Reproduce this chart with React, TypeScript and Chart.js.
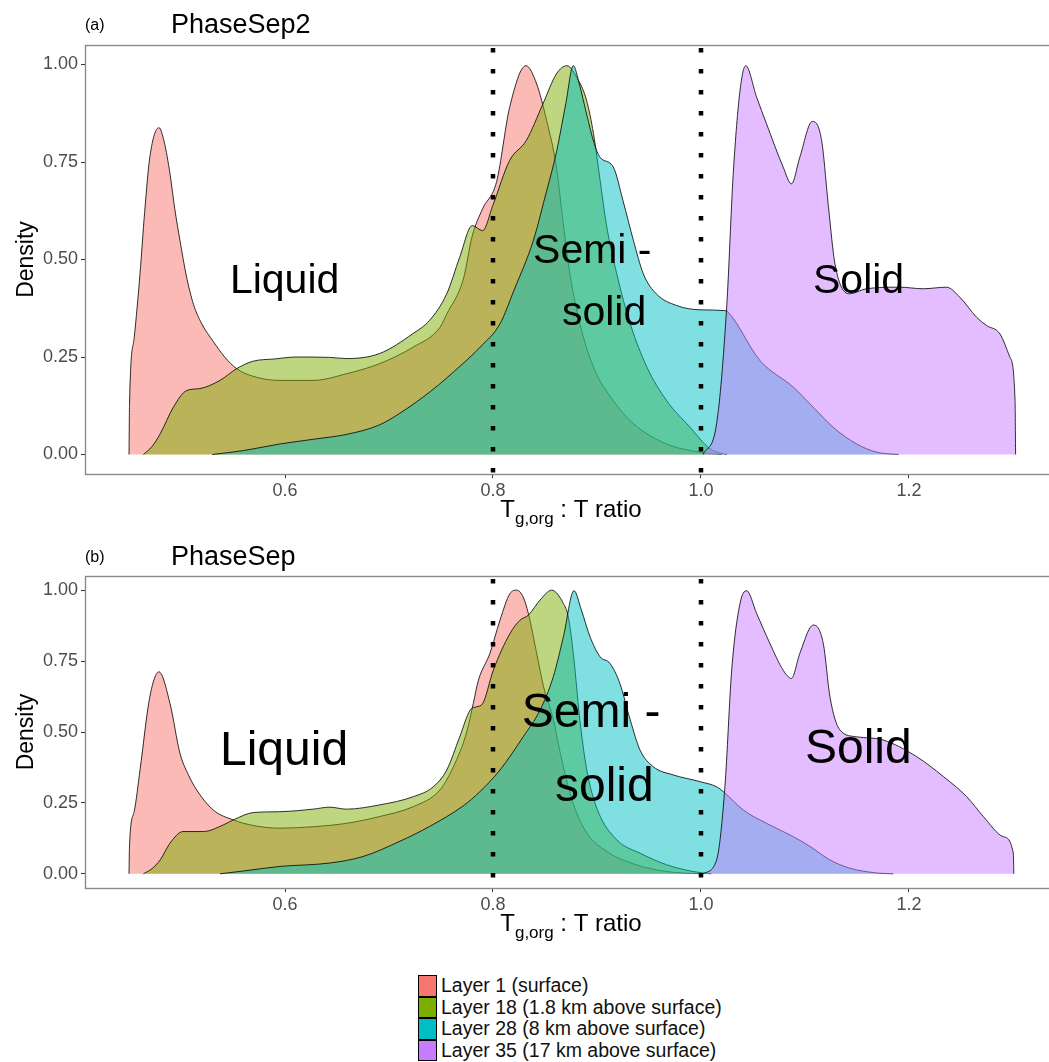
import React, { useEffect, useRef } from "react";
import { Chart, registerables } from "chart.js";

Chart.register(...registerables);

type Pt = [number, number];

// ---------- data ----------
const layerNames = [
  "Layer 1 (surface)",
  "Layer 18 (1.8 km above surface)",
  "Layer 28 (8 km above surface)",
  "Layer 35 (17 km above surface)",
];
const layerColors = ["#F8766D", "#7CAE00", "#00BFC4", "#C77CFF"];
const xTicks = [0.6, 0.8, 1.0, 1.2];
const yTicks = [0, 0.25, 0.5, 0.75, 1.0];
const phaseBoundaries = [0.8, 1.0];

// Panel (a) PhaseSep2
const aLayer1: Pt[] = [
  [0.45, 0], [0.4505, 0.13], [0.455, 0.3], [0.4606, 0.464], [0.465, 0.62], [0.47, 0.762],
  [0.4788, 0.838], [0.484, 0.8], [0.4894, 0.72], [0.494, 0.63], [0.499, 0.549], [0.505, 0.46],
  [0.512, 0.385], [0.52, 0.335], [0.531, 0.29], [0.542, 0.25], [0.5535, 0.22], [0.57, 0.2],
  [0.595, 0.19], [0.627, 0.19], [0.659, 0.207], [0.691, 0.233], [0.723, 0.275], [0.749, 0.326],
  [0.7555, 0.36], [0.7715, 0.45], [0.78, 0.56], [0.79, 0.63], [0.8035, 0.7], [0.816, 0.89],
  [0.8317, 0.997], [0.842, 0.95], [0.8516, 0.856], [0.861, 0.737], [0.8676, 0.591], [0.874, 0.463],
  [0.8836, 0.335], [0.8966, 0.224], [0.9156, 0.138], [0.935, 0.079], [0.967, 0.027], [0.999, 0.006],
  [1.02, 0],
];
const aLayer18: Pt[] = [
  [0.4638, 0], [0.472, 0.02], [0.48, 0.053], [0.4926, 0.121], [0.5055, 0.164], [0.518, 0.169],
  [0.5375, 0.19], [0.5535, 0.22], [0.569, 0.239], [0.59, 0.245], [0.611, 0.25], [0.643, 0.249],
  [0.659, 0.246], [0.691, 0.259], [0.723, 0.31], [0.739, 0.344], [0.7555, 0.412], [0.768, 0.506],
  [0.78, 0.587], [0.79, 0.574], [0.8, 0.64], [0.816, 0.754], [0.832, 0.805], [0.848, 0.899],
  [0.861, 0.976], [0.871, 0.997], [0.882, 0.96], [0.89, 0.908], [0.8966, 0.823], [0.903, 0.703],
  [0.909, 0.59], [0.919, 0.463], [0.932, 0.335], [0.948, 0.224], [0.967, 0.138], [0.9894, 0.07],
  [1.0087, 0.0145], [1.025, 0],
];
const aLayer28: Pt[] = [
  [0.53, 0], [0.56, 0.01], [0.595, 0.027], [0.63, 0.04], [0.66, 0.052], [0.69, 0.075], [0.71, 0.105],
  [0.74, 0.162], [0.771, 0.233], [0.7875, 0.275], [0.8067, 0.335], [0.82, 0.42], [0.8388, 0.549],
  [0.85, 0.66], [0.8613, 0.779], [0.87, 0.9], [0.8772, 0.997], [0.883, 0.95], [0.89, 0.873],
  [0.897, 0.8], [0.903, 0.762], [0.9157, 0.737], [0.925, 0.651], [0.935, 0.549], [0.9446, 0.463],
  [0.957, 0.412], [0.9766, 0.382], [0.999, 0.371], [1.023, 0.369], [1.026, 0.365], [1.0567, 0.241],
  [1.0888, 0.1726], [1.108, 0.121], [1.127, 0.07], [1.1497, 0.027], [1.169, 0.006], [1.19, 0],
];
const aLayer35: Pt[] = [
  [1.002, 0], [1.015, 0.079], [1.0247, 0.378], [1.031, 0.72], [1.0375, 0.933], [1.043, 0.997],
  [1.0535, 0.916], [1.063, 0.848], [1.079, 0.737], [1.087, 0.694], [1.095, 0.762], [1.107, 0.854],
  [1.116, 0.805], [1.1226, 0.634], [1.1288, 0.489], [1.143, 0.412], [1.159, 0.425], [1.191, 0.429],
  [1.2137, 0.425], [1.236, 0.429], [1.249, 0.403], [1.265, 0.352], [1.2745, 0.331], [1.2875, 0.309],
  [1.297, 0.25], [1.302, 0.138], [1.3025, 0],
];

// Panel (b) PhaseSep
const bLayer1: Pt[] = [
  [0.45, 0], [0.4505, 0.102], [0.455, 0.22], [0.4606, 0.366], [0.47, 0.624], [0.4788, 0.712],
  [0.4894, 0.601], [0.499, 0.425], [0.507, 0.35], [0.515, 0.296], [0.531, 0.225], [0.5503, 0.19],
  [0.57, 0.17], [0.595, 0.161], [0.627, 0.166], [0.659, 0.178], [0.691, 0.202], [0.7234, 0.237],
  [0.749, 0.296], [0.762, 0.378], [0.7747, 0.5], [0.781, 0.6], [0.786, 0.683], [0.797, 0.777],
  [0.8067, 0.894], [0.8163, 0.988], [0.8228, 1.0], [0.829, 0.976], [0.834, 0.918], [0.842, 0.777],
  [0.8486, 0.66], [0.8582, 0.542], [0.8644, 0.43], [0.877, 0.249], [0.89, 0.145], [0.909, 0.08],
  [0.935, 0.035], [0.967, 0.008], [1.0, 0],
];
const bLayer18: Pt[] = [
  [0.4638, 0], [0.472, 0.018], [0.48, 0.049], [0.4894, 0.108], [0.502, 0.149], [0.5215, 0.149],
  [0.5407, 0.1725], [0.5503, 0.19], [0.5696, 0.216], [0.595, 0.219], [0.627, 0.228], [0.643, 0.235],
  [0.659, 0.228], [0.691, 0.243], [0.7234, 0.272], [0.7426, 0.307], [0.7555, 0.366], [0.768, 0.483],
  [0.778, 0.577], [0.7843, 0.589], [0.79, 0.6], [0.8003, 0.718], [0.8163, 0.847], [0.8259, 0.894],
  [0.834, 0.912], [0.8452, 0.965], [0.8564, 1.0], [0.8677, 0.953], [0.8724, 0.906], [0.878, 0.75],
  [0.883, 0.56], [0.89, 0.37], [0.9, 0.23], [0.919, 0.12], [0.9413, 0.073], [0.967, 0.032],
  [0.9926, 0.008], [1.01, 0],
];
const bLayer28: Pt[] = [
  [0.5375, 0], [0.56, 0.01], [0.595, 0.026], [0.643, 0.038], [0.675, 0.061], [0.7106, 0.115],
  [0.739, 0.167], [0.7715, 0.24], [0.7875, 0.29], [0.8067, 0.366], [0.829, 0.483], [0.8452, 0.577],
  [0.858, 0.695], [0.8677, 0.836], [0.8779, 0.998], [0.885, 0.93], [0.8933, 0.836], [0.903, 0.765],
  [0.9125, 0.742], [0.922, 0.671], [0.932, 0.542], [0.9413, 0.437], [0.954, 0.378], [0.973, 0.349],
  [0.999, 0.325], [1.015, 0.307], [1.0214, 0.29], [1.0407, 0.225], [1.063, 0.178], [1.0888, 0.131],
  [1.105, 0.096], [1.124, 0.049], [1.143, 0.02], [1.169, 0.003], [1.185, 0],
];
const bLayer35: Pt[] = [
  [1.002, 0], [1.015, 0.049], [1.023, 0.307], [1.0295, 0.718], [1.0375, 0.953], [1.0439, 0.998],
  [1.0535, 0.918], [1.0663, 0.812], [1.079, 0.718], [1.087, 0.689], [1.095, 0.777], [1.108, 0.877],
  [1.1176, 0.812], [1.124, 0.624], [1.1336, 0.507], [1.1497, 0.483], [1.175, 0.472], [1.2074, 0.413],
  [1.233, 0.343], [1.2555, 0.272], [1.2715, 0.202], [1.2907, 0.131], [1.3003, 0.073], [1.3008, 0],
];

const phaseLabels = ["Liquid", "Semi -", "solid", "Solid"];

// ---------- layout ----------
const FONT = '"Liberation Sans", Arial, Helvetica, sans-serif';
const X_MIN = 0.40769;
const X_MAX = 1.33462;
const Y_MIN = -0.05;
const Y_MAX = 1.05;
const PANEL_CENTER_X = 0.875;

interface PanelSpec {
  tag: string;
  title: string;
  series: Pt[][];
  top: number;
  height: number;
  padTop: number;
  axisH: number;
  tagBaseline: number;
  titleBaseline: number;
  labelSize: number;
  labelPos: Pt[];
}

const panels: PanelSpec[] = [
  {
    tag: "(a)",
    title: "PhaseSep2",
    series: [aLayer1, aLayer18, aLayer28, aLayer35],
    top: 0,
    height: 535,
    padTop: 45,
    axisH: 61,
    tagBaseline: 30,
    titleBaseline: 33,
    labelSize: 41,
    labelPos: [[0.547, 0.413], [0.8385, 0.49], [0.8663, 0.331], [1.1077, 0.413]],
  },
  {
    tag: "(b)",
    title: "PhaseSep",
    series: [bLayer1, bLayer18, bLayer28, bLayer35],
    top: 540,
    height: 410,
    padTop: 36,
    axisH: 62,
    tagBaseline: 21.5,
    titleBaseline: 25,
    labelSize: 48,
    labelPos: [[0.5375, 0.384], [0.8276, 0.518], [0.8596, 0.255], [1.1, 0.391]],
  },
];

function hexA(hex: string, a: number) {
  const n = parseInt(hex.slice(1), 16);
  return `rgba(${(n >> 16) & 255},${(n >> 8) & 255},${n & 255},${a})`;
}

function makeOverlay(spec: PanelSpec) {
  return {
    id: "overlay" + spec.tag,
    afterDraw(chart: any) {
      const ctx = chart.ctx as CanvasRenderingContext2D;
      const area = chart.chartArea;
      const xs = chart.scales.x;
      const ys = chart.scales.y;
      ctx.save();
      // phase boundaries
      ctx.strokeStyle = "#000";
      ctx.lineWidth = 4.5;
      ctx.setLineDash([4.5, 16.5]);
      ctx.lineDashOffset = -3;
      phaseBoundaries.forEach((v) => {
        const px = Math.round(xs.getPixelForValue(v));
        ctx.beginPath();
        ctx.moveTo(px, area.top);
        ctx.lineTo(px, area.bottom + 2);
        ctx.stroke();
      });
      ctx.setLineDash([]);
      // phase labels
      ctx.fillStyle = "#000";
      ctx.font = `${spec.labelSize}px ${FONT}`;
      ctx.textAlign = "left";
      ctx.textBaseline = "alphabetic";
      phaseLabels.forEach((t, i) => {
        const [lx, ly] = spec.labelPos[i];
        ctx.fillText(t, xs.getPixelForValue(lx), ys.getPixelForValue(ly));
      });
      // frame
      ctx.strokeStyle = "#8a8a8a";
      ctx.lineWidth = 1.4;
      ctx.strokeRect(area.left + 0.5, area.top + 0.5, chart.width + 20, area.bottom - area.top);
      // titles
      ctx.fillStyle = "#000";
      ctx.font = `16px ${FONT}`;
      ctx.fillText(spec.tag, 85, spec.tagBaseline);
      ctx.font = `27px ${FONT}`;
      ctx.fillText(spec.title, 171, spec.titleBaseline);
      // y title
      ctx.save();
      ctx.translate(33, ys.getPixelForValue(0.5));
      ctx.rotate(-Math.PI / 2);
      ctx.textAlign = "center";
      ctx.font = `23px ${FONT}`;
      ctx.fillText("Density", 0, 0);
      ctx.restore();
      // x title with subscript
      const base = area.bottom + 43;
      ctx.font = `24px ${FONT}`;
      const wT = ctx.measureText("T").width;
      const wRest = ctx.measureText(" : T ratio").width;
      ctx.font = `17px ${FONT}`;
      const wSub = ctx.measureText("g,org").width;
      const total = wT + wSub + wRest;
      let sx = xs.getPixelForValue(PANEL_CENTER_X) - total / 2;
      ctx.textAlign = "left";
      ctx.font = `24px ${FONT}`;
      ctx.fillText("T", sx, base);
      sx += wT;
      ctx.font = `17px ${FONT}`;
      ctx.fillText("g,org", sx, base + 6.5);
      sx += wSub;
      ctx.font = `24px ${FONT}`;
      ctx.fillText(" : T ratio", sx, base);
      ctx.restore();
    },
  };
}

function Panel({ spec }: { spec: PanelSpec }) {
  const ref = useRef<HTMLCanvasElement>(null);
  useEffect(() => {
    const chart = new Chart(ref.current!, {
      type: "line",
      data: {
        datasets: spec.series.map((s, i) => ({
          label: layerNames[i],
          data: s.map(([x, y]) => ({ x, y })),
          borderColor: "rgba(0,0,0,0.8)",
          borderWidth: 1,
          backgroundColor: hexA(layerColors[i], 0.5),
          fill: "origin",
          pointRadius: 0,
          cubicInterpolationMode: "monotone",
          order: 4 - i,
        })),
      },
      options: {
        animation: false,
        responsive: false,
        devicePixelRatio: 1,
        layout: { padding: { top: spec.padTop, left: 0, right: 0, bottom: 0 } },
        plugins: {
          legend: { display: false },
          tooltip: { enabled: false },
          title: { display: false },
        },
        scales: {
          x: {
            type: "linear",
            min: X_MIN,
            max: X_MAX,
            afterBuildTicks: (s: any) => {
              s.ticks = xTicks.map((v) => ({ value: v }));
            },
            afterFit: (s: any) => {
              s.height = spec.axisH;
            },
            ticks: {
              autoSkip: false,
              maxRotation: 0,
              padding: 2,
              color: "#4d4d4d",
              font: { family: FONT, size: 18 },
              callback: (v: any) => Number(v).toFixed(1),
            },
            grid: { display: true, drawOnChartArea: false, tickLength: 4, color: "#333", lineWidth: 1 },
            border: { display: false },
          },
          y: {
            type: "linear",
            min: Y_MIN,
            max: Y_MAX,
            afterBuildTicks: (s: any) => {
              s.ticks = yTicks.map((v) => ({ value: v }));
            },
            afterFit: (s: any) => {
              s.width = 85;
            },
            ticks: {
              autoSkip: false,
              padding: 3,
              color: "#4d4d4d",
              font: { family: FONT, size: 18 },
              callback: (v: any) => Number(v).toFixed(2),
            },
            grid: { display: true, drawOnChartArea: false, tickLength: 4, color: "#333", lineWidth: 1 },
            border: { display: false },
          },
        },
      },
      plugins: [makeOverlay(spec)],
    } as any);
    return () => chart.destroy();
  }, [spec]);
  return (
    <canvas
      ref={ref}
      width={1049}
      height={spec.height}
      style={{ position: "absolute", left: 0, top: spec.top, width: 1049, height: spec.height }}
    />
  );
}

function Legend() {
  return (
    <div style={{ position: "absolute", left: 418, top: 975, fontFamily: FONT }}>
      {layerNames.map((n, i) => (
        <div key={n} style={{ display: "flex", alignItems: "center", height: 21.5 }}>
          <div
            style={{
              width: 19,
              height: 21.5,
              boxSizing: "border-box",
              border: "1.5px solid #000",
              background: layerColors[i],
            }}
          />
          <span style={{ marginLeft: 4, fontSize: 19.5, lineHeight: "21.5px", color: "#111" }}>{n}</span>
        </div>
      ))}
    </div>
  );
}

export default function App() {
  return (
    <div
      style={{
        position: "absolute",
        left: 0,
        top: 0,
        width: 1049,
        height: 1062,
        overflow: "hidden",
        background: "#fff",
      }}
    >
      {panels.map((p) => (
        <Panel key={p.tag} spec={p} />
      ))}
      <Legend />
    </div>
  );
}
